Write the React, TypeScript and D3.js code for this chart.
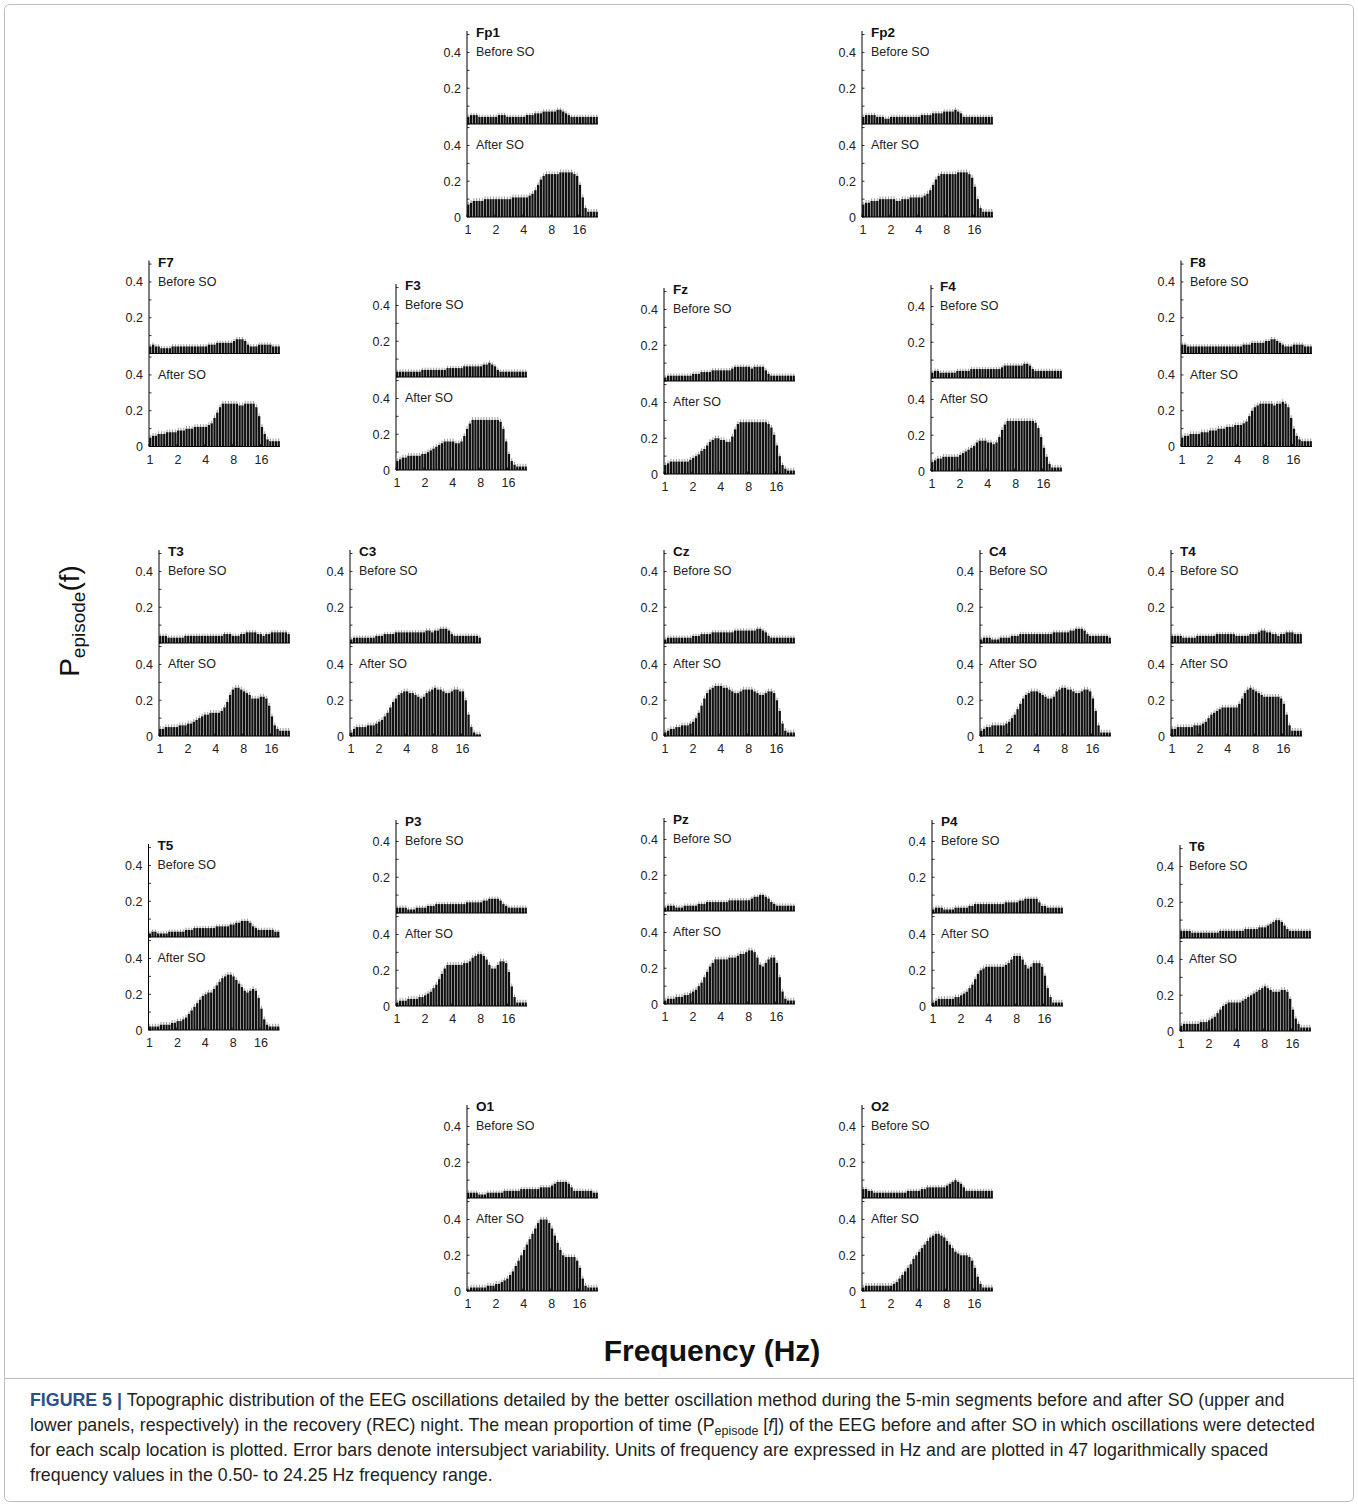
import React from "react";
import * as d3 from "d3";

// Frequency axis: tick labels (Hz) and number of frequency bins per panel
const FREQ_TICKS = [1, 2, 4, 8, 16];
const N_BINS = 47;
const Y_LABEL_TICKS = [0.2, 0.4];
const Y_MINOR_TICKS = [0, 0.1, 0.2, 0.3, 0.4, 0.5];

// Mean P_episode(f) per bin, before / after sleep onset
const FP1_BEFORE = [0.04,0.05,0.05,0.05,0.04, 0.04,0.04,0.04,0.04,0.04, 0.04,0.05,0.05,0.05,0.04, 0.04,0.04,0.04,0.04,0.04, 0.04,0.05,0.05,0.05,0.06, 0.06,0.06,0.07,0.07,0.07, 0.07,0.07,0.08,0.08,0.07, 0.06,0.05,0.04,0.04,0.04, 0.04,0.04,0.04,0.04,0.04,0.04,0.04];
const FP1_AFTER = [0.07,0.08,0.09,0.09,0.09, 0.09,0.10,0.10,0.10,0.10, 0.10,0.10,0.10,0.10,0.10, 0.10,0.11,0.11,0.11,0.11, 0.11,0.11,0.12,0.13,0.15, 0.18,0.21,0.23,0.24,0.24, 0.24,0.24,0.24,0.25,0.25, 0.25,0.25,0.25,0.24,0.23, 0.18,0.11,0.05,0.03,0.03,0.03,0.03];
const FP2_BEFORE = [0.04,0.05,0.05,0.05,0.05, 0.04,0.04,0.04,0.03,0.03, 0.04,0.04,0.04,0.04,0.04, 0.04,0.04,0.04,0.04,0.04, 0.04,0.05,0.05,0.05,0.05, 0.06,0.06,0.06,0.06,0.07, 0.07,0.07,0.07,0.08,0.07, 0.06,0.04,0.04,0.04,0.04, 0.04,0.04,0.04,0.04,0.04,0.04,0.04];
const FP2_AFTER = [0.07,0.08,0.08,0.09,0.09, 0.09,0.10,0.10,0.10,0.10, 0.10,0.10,0.09,0.09,0.10, 0.10,0.10,0.11,0.11,0.11, 0.11,0.11,0.12,0.13,0.15, 0.18,0.21,0.23,0.24,0.24, 0.24,0.24,0.24,0.24,0.25, 0.25,0.25,0.25,0.24,0.22, 0.17,0.10,0.05,0.03,0.03,0.03,0.03];
const F7_BEFORE = [0.04,0.05,0.04,0.04,0.03, 0.03,0.03,0.03,0.04,0.04, 0.04,0.04,0.04,0.04,0.04, 0.04,0.04,0.04,0.04,0.04, 0.04,0.05,0.05,0.05,0.06, 0.06,0.06,0.06,0.06,0.06, 0.07,0.08,0.08,0.08,0.07, 0.05,0.04,0.04,0.04,0.05, 0.05,0.05,0.05,0.05,0.04,0.04,0.04];
const F7_AFTER = [0.05,0.06,0.06,0.07,0.07, 0.07,0.08,0.08,0.08,0.08, 0.09,0.09,0.09,0.10,0.10, 0.10,0.11,0.11,0.11,0.11, 0.11,0.12,0.13,0.16,0.19, 0.22,0.24,0.24,0.24,0.24, 0.24,0.24,0.23,0.23,0.24, 0.24,0.24,0.24,0.22,0.17, 0.11,0.07,0.04,0.03,0.03,0.03,0.03];
const F3_BEFORE = [0.03,0.03,0.03,0.03,0.03, 0.03,0.03,0.03,0.03,0.04, 0.04,0.04,0.04,0.04,0.04, 0.04,0.04,0.04,0.05,0.05, 0.05,0.05,0.05,0.05,0.06, 0.06,0.06,0.06,0.06,0.06, 0.06,0.07,0.07,0.08,0.07, 0.06,0.04,0.03,0.03,0.03, 0.03,0.03,0.03,0.03,0.03,0.03,0.03];
const F3_AFTER = [0.05,0.06,0.07,0.07,0.08, 0.08,0.08,0.08,0.08,0.09, 0.09,0.10,0.11,0.12,0.13, 0.14,0.15,0.16,0.16,0.16, 0.16,0.15,0.15,0.16,0.19, 0.23,0.26,0.28,0.28,0.28, 0.28,0.28,0.28,0.28,0.28, 0.28,0.28,0.27,0.23,0.16, 0.09,0.05,0.03,0.02,0.02,0.02,0.02];
const FZ_BEFORE = [0.02,0.03,0.03,0.03,0.03, 0.03,0.03,0.03,0.03,0.03, 0.04,0.04,0.04,0.05,0.05, 0.05,0.05,0.06,0.06,0.06, 0.06,0.06,0.06,0.06,0.07, 0.08,0.08,0.08,0.08,0.08, 0.08,0.07,0.08,0.08,0.08, 0.08,0.06,0.04,0.03,0.03, 0.03,0.03,0.03,0.03,0.03,0.03,0.03];
const FZ_AFTER = [0.05,0.06,0.07,0.07,0.07, 0.07,0.07,0.07,0.07,0.08, 0.09,0.10,0.11,0.13,0.14, 0.16,0.18,0.19,0.20,0.20, 0.19,0.19,0.18,0.18,0.21, 0.25,0.28,0.29,0.29,0.29, 0.29,0.29,0.29,0.29,0.29, 0.29,0.29,0.28,0.26,0.22, 0.16,0.10,0.05,0.03,0.02,0.02,0.02];
const F4_BEFORE = [0.03,0.04,0.04,0.03,0.03, 0.03,0.03,0.03,0.03,0.04, 0.04,0.04,0.04,0.04,0.05, 0.05,0.05,0.05,0.05,0.05, 0.05,0.05,0.05,0.05,0.05, 0.06,0.07,0.07,0.07,0.07, 0.07,0.07,0.07,0.08,0.08, 0.07,0.05,0.04,0.04,0.04, 0.04,0.04,0.04,0.04,0.04,0.04,0.04];
const F4_AFTER = [0.05,0.06,0.07,0.07,0.08, 0.08,0.08,0.08,0.08,0.08, 0.09,0.10,0.11,0.12,0.13, 0.14,0.16,0.17,0.17,0.17, 0.16,0.16,0.15,0.16,0.19, 0.23,0.26,0.28,0.28,0.28, 0.28,0.28,0.28,0.28,0.28, 0.28,0.28,0.27,0.24,0.19, 0.13,0.08,0.04,0.02,0.02,0.02,0.02];
const F8_BEFORE = [0.05,0.05,0.04,0.04,0.04, 0.04,0.04,0.04,0.04,0.04, 0.04,0.04,0.04,0.04,0.04, 0.04,0.04,0.04,0.04,0.04, 0.04,0.04,0.05,0.05,0.05, 0.06,0.06,0.06,0.06,0.06, 0.07,0.07,0.08,0.08,0.07, 0.06,0.05,0.04,0.04,0.04, 0.05,0.05,0.05,0.05,0.04,0.04,0.04];
const F8_AFTER = [0.05,0.06,0.06,0.07,0.07, 0.07,0.07,0.08,0.08,0.08, 0.09,0.09,0.09,0.10,0.10, 0.10,0.11,0.11,0.11,0.12, 0.12,0.12,0.13,0.14,0.17, 0.20,0.22,0.23,0.24,0.24, 0.24,0.24,0.24,0.23,0.24, 0.24,0.25,0.24,0.22,0.16, 0.10,0.06,0.04,0.03,0.03,0.03,0.03];
const T3_BEFORE = [0.04,0.04,0.04,0.03,0.03, 0.03,0.03,0.03,0.03,0.04, 0.04,0.04,0.04,0.04,0.04, 0.04,0.04,0.04,0.04,0.04, 0.04,0.04,0.04,0.05,0.05, 0.05,0.04,0.04,0.04,0.05, 0.05,0.06,0.06,0.06,0.06, 0.05,0.05,0.04,0.05,0.05, 0.06,0.06,0.06,0.06,0.06,0.06,0.05];
const T3_AFTER = [0.04,0.04,0.05,0.05,0.05, 0.05,0.05,0.06,0.06,0.06, 0.07,0.07,0.08,0.09,0.10, 0.11,0.12,0.12,0.13,0.13, 0.13,0.13,0.14,0.16,0.19, 0.23,0.26,0.27,0.27,0.26, 0.25,0.24,0.23,0.21,0.21, 0.21,0.22,0.22,0.21,0.17, 0.11,0.06,0.04,0.03,0.03,0.03,0.03];
const C3_BEFORE = [0.02,0.03,0.03,0.03,0.03, 0.03,0.03,0.03,0.03,0.04, 0.04,0.04,0.05,0.05,0.05, 0.05,0.06,0.06,0.06,0.06, 0.06,0.06,0.06,0.06,0.06, 0.06,0.06,0.07,0.07,0.06, 0.07,0.07,0.08,0.08,0.08, 0.07,0.05,0.04,0.04,0.04, 0.04,0.04,0.04,0.04,0.04,0.04,0.03];
const C3_AFTER = [0.02,0.04,0.05,0.05,0.05, 0.05,0.06,0.06,0.06,0.07, 0.08,0.09,0.11,0.13,0.16, 0.19,0.21,0.23,0.24,0.25, 0.25,0.24,0.24,0.23,0.22, 0.21,0.22,0.24,0.25,0.26, 0.27,0.26,0.26,0.25,0.24, 0.24,0.25,0.26,0.26,0.25, 0.25,0.20,0.12,0.05,0.02,0.01,0.01];
const CZ_BEFORE = [0.02,0.03,0.03,0.03,0.03, 0.03,0.03,0.03,0.03,0.03, 0.04,0.04,0.04,0.05,0.05, 0.05,0.05,0.06,0.06,0.06, 0.06,0.06,0.06,0.06,0.06, 0.07,0.07,0.07,0.07,0.07, 0.07,0.07,0.07,0.08,0.08, 0.07,0.06,0.04,0.03,0.03, 0.03,0.03,0.03,0.03,0.03,0.03,0.03];
const CZ_AFTER = [0.02,0.03,0.04,0.04,0.05, 0.05,0.06,0.06,0.06,0.07, 0.08,0.10,0.13,0.17,0.21, 0.24,0.26,0.27,0.28,0.28, 0.28,0.27,0.27,0.26,0.25, 0.24,0.24,0.25,0.26,0.26, 0.26,0.26,0.25,0.24,0.23, 0.23,0.24,0.25,0.25,0.24, 0.20,0.14,0.07,0.03,0.02,0.02,0.02];
const C4_BEFORE = [0.02,0.03,0.03,0.03,0.02, 0.02,0.02,0.03,0.03,0.03, 0.03,0.04,0.04,0.04,0.05, 0.05,0.05,0.05,0.05,0.05, 0.05,0.05,0.05,0.05,0.05, 0.05,0.06,0.06,0.06,0.06, 0.06,0.06,0.07,0.07,0.08, 0.08,0.08,0.07,0.05,0.04, 0.04,0.04,0.04,0.04,0.04,0.04,0.03];
const C4_AFTER = [0.03,0.04,0.05,0.05,0.06, 0.06,0.06,0.06,0.06,0.07, 0.08,0.10,0.12,0.15,0.18, 0.21,0.23,0.24,0.25,0.25, 0.25,0.24,0.23,0.22,0.21, 0.21,0.22,0.25,0.26,0.27, 0.27,0.26,0.26,0.25,0.24, 0.24,0.25,0.26,0.26,0.25, 0.21,0.14,0.06,0.02,0.02,0.02,0.02];
const T4_BEFORE = [0.04,0.04,0.04,0.04,0.03, 0.03,0.03,0.03,0.03,0.04, 0.04,0.04,0.04,0.04,0.04, 0.04,0.05,0.05,0.05,0.05, 0.05,0.05,0.05,0.04,0.04, 0.04,0.04,0.04,0.05,0.05, 0.05,0.06,0.07,0.07,0.06, 0.06,0.05,0.05,0.04,0.05, 0.05,0.06,0.06,0.06,0.05,0.05,0.05];
const T4_AFTER = [0.04,0.04,0.05,0.05,0.05, 0.05,0.05,0.05,0.06,0.06, 0.06,0.07,0.08,0.10,0.12, 0.13,0.14,0.15,0.16,0.16, 0.16,0.16,0.16,0.16,0.18, 0.21,0.24,0.26,0.27,0.26, 0.25,0.24,0.23,0.22,0.22, 0.22,0.22,0.22,0.22,0.21, 0.18,0.12,0.06,0.03,0.03,0.03,0.03];
const T5_BEFORE = [0.02,0.03,0.03,0.02,0.02, 0.02,0.02,0.03,0.03,0.03, 0.03,0.03,0.03,0.04,0.04, 0.04,0.05,0.05,0.05,0.05, 0.05,0.05,0.05,0.05,0.06, 0.06,0.06,0.06,0.06,0.07, 0.07,0.08,0.08,0.09,0.09, 0.09,0.08,0.06,0.05,0.04, 0.04,0.04,0.04,0.04,0.04,0.03,0.03];
const T5_AFTER = [0.02,0.02,0.02,0.02,0.03, 0.03,0.03,0.03,0.04,0.04, 0.05,0.05,0.06,0.07,0.09, 0.11,0.13,0.15,0.17,0.19, 0.20,0.21,0.21,0.23,0.25, 0.27,0.29,0.30,0.31,0.31, 0.30,0.28,0.26,0.24,0.22, 0.21,0.22,0.23,0.22,0.18, 0.12,0.06,0.03,0.02,0.02,0.02,0.02];
const P3_BEFORE = [0.03,0.03,0.03,0.03,0.02, 0.02,0.02,0.03,0.03,0.03, 0.03,0.04,0.04,0.04,0.05, 0.05,0.05,0.05,0.05,0.05, 0.05,0.05,0.05,0.05,0.05, 0.06,0.06,0.06,0.06,0.06, 0.06,0.07,0.07,0.08,0.08, 0.08,0.08,0.07,0.05,0.04, 0.03,0.03,0.03,0.03,0.03,0.03,0.03];
const P3_AFTER = [0.02,0.03,0.03,0.03,0.04, 0.04,0.04,0.04,0.05,0.05, 0.06,0.07,0.08,0.10,0.12, 0.15,0.18,0.21,0.23,0.23, 0.23,0.23,0.23,0.23,0.24, 0.24,0.25,0.27,0.28,0.29, 0.29,0.28,0.26,0.23,0.21, 0.21,0.23,0.25,0.25,0.24, 0.19,0.11,0.05,0.02,0.02,0.02,0.02];
const PZ_BEFORE = [0.02,0.03,0.03,0.03,0.02, 0.02,0.02,0.03,0.03,0.03, 0.03,0.03,0.04,0.04,0.04, 0.05,0.05,0.05,0.05,0.05, 0.05,0.05,0.05,0.06,0.06, 0.06,0.06,0.06,0.06,0.06, 0.06,0.07,0.08,0.08,0.09, 0.09,0.08,0.07,0.05,0.04, 0.03,0.03,0.03,0.03,0.03,0.03,0.03];
const PZ_AFTER = [0.02,0.03,0.03,0.03,0.04, 0.04,0.04,0.05,0.05,0.06, 0.07,0.08,0.10,0.12,0.15, 0.18,0.21,0.23,0.25,0.25, 0.25,0.25,0.25,0.26,0.26, 0.26,0.27,0.28,0.28,0.29, 0.30,0.30,0.29,0.26,0.22, 0.21,0.23,0.25,0.26,0.26, 0.23,0.15,0.07,0.03,0.02,0.02,0.02];
const P4_BEFORE = [0.02,0.03,0.03,0.03,0.02, 0.02,0.02,0.02,0.03,0.03, 0.03,0.03,0.03,0.04,0.04, 0.05,0.05,0.05,0.05,0.05, 0.05,0.05,0.05,0.05,0.05, 0.05,0.06,0.06,0.06,0.06, 0.06,0.07,0.07,0.08,0.08, 0.08,0.08,0.08,0.06,0.04, 0.04,0.03,0.03,0.03,0.03,0.03,0.03];
const P4_AFTER = [0.02,0.03,0.04,0.04,0.04, 0.04,0.04,0.04,0.05,0.05, 0.06,0.07,0.08,0.10,0.12, 0.15,0.18,0.20,0.21,0.22, 0.22,0.22,0.22,0.22,0.22, 0.22,0.23,0.24,0.26,0.28, 0.28,0.28,0.26,0.23,0.21, 0.22,0.24,0.24,0.24,0.22, 0.17,0.10,0.05,0.02,0.02,0.02,0.02];
const T6_BEFORE = [0.04,0.04,0.04,0.04,0.03, 0.03,0.03,0.03,0.03,0.03, 0.03,0.03,0.03,0.03,0.04, 0.04,0.04,0.04,0.04,0.04, 0.04,0.04,0.04,0.05,0.05, 0.05,0.05,0.05,0.06,0.06, 0.06,0.07,0.08,0.09,0.10, 0.10,0.09,0.07,0.05,0.04, 0.04,0.04,0.04,0.04,0.04,0.04,0.04];
const T6_AFTER = [0.03,0.04,0.04,0.04,0.04, 0.04,0.04,0.05,0.05,0.05, 0.06,0.07,0.08,0.10,0.12, 0.14,0.15,0.16,0.16,0.16, 0.16,0.16,0.17,0.18,0.19, 0.20,0.21,0.22,0.23,0.24, 0.25,0.24,0.23,0.22,0.22, 0.22,0.23,0.23,0.22,0.18, 0.12,0.07,0.04,0.02,0.02,0.02,0.02];
const O1_BEFORE = [0.03,0.03,0.03,0.03,0.02, 0.02,0.02,0.03,0.03,0.03, 0.03,0.03,0.03,0.04,0.04, 0.04,0.04,0.04,0.04,0.05, 0.05,0.05,0.05,0.05,0.05, 0.05,0.06,0.06,0.06,0.06, 0.07,0.08,0.09,0.09,0.09, 0.09,0.08,0.06,0.04,0.04, 0.04,0.04,0.04,0.04,0.04,0.03,0.03];
const O1_AFTER = [0.01,0.02,0.02,0.02,0.02, 0.02,0.02,0.03,0.03,0.03, 0.04,0.04,0.05,0.06,0.07, 0.09,0.11,0.14,0.17,0.20, 0.23,0.26,0.29,0.32,0.35, 0.38,0.40,0.40,0.40,0.38, 0.35,0.31,0.27,0.23,0.20, 0.19,0.19,0.19,0.19,0.17, 0.13,0.07,0.03,0.02,0.02,0.02,0.02];
const O2_BEFORE = [0.05,0.05,0.04,0.04,0.03, 0.03,0.03,0.03,0.03,0.03, 0.03,0.03,0.03,0.03,0.03, 0.03,0.04,0.04,0.04,0.04, 0.04,0.05,0.05,0.06,0.06, 0.06,0.06,0.06,0.06,0.06, 0.07,0.08,0.09,0.10,0.09, 0.08,0.06,0.04,0.04,0.04, 0.04,0.04,0.04,0.04,0.04,0.04,0.04];
const O2_AFTER = [0.02,0.03,0.03,0.03,0.03, 0.03,0.03,0.03,0.03,0.03, 0.03,0.04,0.05,0.07,0.09, 0.11,0.13,0.15,0.18,0.20, 0.22,0.24,0.26,0.28,0.30, 0.31,0.32,0.32,0.31,0.30, 0.28,0.26,0.24,0.22,0.21, 0.20,0.20,0.20,0.19,0.17, 0.13,0.08,0.04,0.02,0.02,0.02,0.02];

// Intersubject variability drawn as error ticks
const ERR_BEFORE = 0.012;
const ERR_AFTER = 0.015;

const CHANNELS = ["Fp1","Fp2","F7","F3","Fz","F4","F8","T3","C3","Cz","C4","T4","T5","P3","Pz","P4","T6","O1","O2"];
const BEFORE: Record<string, number[]> = {
  Fp1: FP1_BEFORE, Fp2: FP2_BEFORE, F7: F7_BEFORE, F3: F3_BEFORE, Fz: FZ_BEFORE, F4: F4_BEFORE, F8: F8_BEFORE,
  T3: T3_BEFORE, C3: C3_BEFORE, Cz: CZ_BEFORE, C4: C4_BEFORE, T4: T4_BEFORE,
  T5: T5_BEFORE, P3: P3_BEFORE, Pz: PZ_BEFORE, P4: P4_BEFORE, T6: T6_BEFORE, O1: O1_BEFORE, O2: O2_BEFORE,
};
const AFTER: Record<string, number[]> = {
  Fp1: FP1_AFTER, Fp2: FP2_AFTER, F7: F7_AFTER, F3: F3_AFTER, Fz: FZ_AFTER, F4: F4_AFTER, F8: F8_AFTER,
  T3: T3_AFTER, C3: C3_AFTER, Cz: CZ_AFTER, C4: C4_AFTER, T4: T4_AFTER,
  T5: T5_AFTER, P3: P3_AFTER, Pz: PZ_AFTER, P4: P4_AFTER, T6: T6_AFTER, O1: O1_AFTER, O2: O2_AFTER,
};

// Scalp layout: y-axis x position and lower-panel baseline for each electrode
const LAYOUT: Record<string, [number, number]> = {
  Fp1: [467, 217], Fp2: [862, 217],
  F7: [149, 446.5], F3: [396, 470], Fz: [664, 474], F4: [931, 471], F8: [1181, 446.5],
  T3: [159, 736], C3: [350, 736], Cz: [664, 736], C4: [980, 736], T4: [1171, 736],
  T5: [148.5, 1030], P3: [396, 1006], Pz: [664, 1004], P4: [932, 1006], T6: [1180, 1031],
  O1: [467, 1291], O2: [862, 1291],
};

const FONT = "'Liberation Sans', Arial, Helvetica, sans-serif";
const PW = 131;
const PH = 93;
const Y_MAX = 0.52;

function SubPlot({ values, err, y, xBand, label, x0, top, showZero }: any) {
  const bw = xBand.bandwidth();
  return (
    <g>
      {values.map((v: number, i: number) => (
        <rect key={"b" + i} x={xBand(i)} y={y(v)} width={bw} height={y(0) - y(v)} fill="#111" />
      ))}
      {values.map((v: number, i: number) => (
        <line key={"e" + i} x1={xBand(i) + bw / 2} x2={xBand(i) + bw / 2} y1={y(v)} y2={y(v + err)} stroke="#8f8f8f" strokeWidth={0.9} />
      ))}
      <line x1={x0} x2={x0 + PW} y1={y(0)} y2={y(0)} stroke="#000" strokeWidth={1} />
      {Y_MINOR_TICKS.map((t) => (
        <line key={"t" + t} x1={x0} x2={x0 + 2.5} y1={y(t)} y2={y(t)} stroke="#000" strokeWidth={0.8} />
      ))}
      {(showZero ? [0, ...Y_LABEL_TICKS] : Y_LABEL_TICKS).map((t) => (
        <text key={"l" + t} x={x0 - 6} y={y(t)} dy="0.36em" textAnchor="end" fontSize={12.5} fill="#222">
          {t === 0 ? "0" : t.toFixed(1)}
        </text>
      ))}
      <text x={x0 + 9} y={top + 25} fontSize={12.5} fill="#222">{label}</text>
    </g>
  );
}

function Panel({ name }: { name: string }) {
  const [x0, base] = LAYOUT[name];
  const xBand = d3.scaleBand<number>().domain(d3.range(N_BINS)).range([x0, x0 + PW]).paddingInner(0.18).paddingOuter(0.05);
  const xLog = d3.scaleLog().domain([1, Math.pow(2, 4.7)]).range([x0, x0 + PW]);
  const yAfter = d3.scaleLinear().domain([0, Y_MAX]).range([base, base - PH]);
  const yBefore = d3.scaleLinear().domain([0, Y_MAX]).range([base - PH, base - 2 * PH]);
  const top = base - 2 * PH;
  return (
    <g fontFamily={FONT}>
      <SubPlot values={BEFORE[name]} err={ERR_BEFORE} y={yBefore} xBand={xBand} label="Before SO" x0={x0} top={top} showZero={false} />
      <SubPlot values={AFTER[name]} err={ERR_AFTER} y={yAfter} xBand={xBand} label="After SO" x0={x0} top={base - PH} showZero={true} />
      <line x1={x0} x2={x0} y1={top} y2={base} stroke="#000" strokeWidth={1} />
      {FREQ_TICKS.map((f) => (
        <g key={f}>
          <line x1={xLog(f)} x2={xLog(f)} y1={base} y2={base - 2.5} stroke="#000" strokeWidth={0.8} />
          <text x={xLog(f) + 1} y={base + 17} textAnchor="middle" fontSize={12.5} fill="#222">{f}</text>
        </g>
      ))}
      <text x={x0 + 9} y={top + 6} fontSize={13.5} fontWeight="bold" fill="#111">{name}</text>
    </g>
  );
}

const CAPTION_LINES = [
  "Topographic distribution of the EEG oscillations detailed by the better oscillation method during the 5-min segments before and after SO (upper and",
  "lower panels, respectively) in the recovery (REC) night. The mean proportion of time (P",
  "for each scalp location is plotted. Error bars denote intersubject variability. Units of frequency are expressed in Hz and are plotted in 47 logarithmically spaced",
  "frequency values in the 0.50- to 24.25 Hz frequency range.",
];

export default function App() {
  const capY = 1406;
  const lh = 25;
  return (
    <svg width={1358} height={1506} style={{ position: "absolute", left: 0, top: 0, background: "#fff" }} fontFamily={FONT}>
      <rect x={0} y={0} width={1358} height={1506} fill="#fff" />
      <rect x={4.5} y={4.5} width={1349} height={1497} rx={5} fill="none" stroke="#bdbdbd" strokeWidth={1} />
      <line x1={4.5} x2={1353.5} y1={1378.5} y2={1378.5} stroke="#bdbdbd" strokeWidth={1} />
      {CHANNELS.map((c) => (
        <Panel key={c} name={c} />
      ))}
      <text transform="translate(79,621) rotate(-90)" textAnchor="middle" fontSize={28} fill="#111">
        P<tspan fontSize={19} dy={6}>episode</tspan><tspan fontSize={28} dy={-6}>(f)</tspan>
      </text>
      <text x={712} y={1361} textAnchor="middle" fontSize={30} fontWeight="bold" fill="#111">Frequency (Hz)</text>
      <g fontSize={17.8} fill="#231f20">
        <text x={30} y={capY}>
          <tspan fontWeight="bold" fill="#2c4f86">FIGURE 5 | </tspan>
          {CAPTION_LINES[0]}
        </text>
        <text x={30} y={capY + lh}>
          {CAPTION_LINES[1]}
          <tspan fontSize={12.5} dy={4}>episode</tspan>
          <tspan dy={-4}> [</tspan>
          <tspan fontStyle="italic">f</tspan>
          <tspan>]) of the EEG before and after SO in which oscillations were detected</tspan>
        </text>
        <text x={30} y={capY + 2 * lh}>{CAPTION_LINES[2]}</text>
        <text x={30} y={capY + 3 * lh}>{CAPTION_LINES[3]}</text>
      </g>
    </svg>
  );
}
